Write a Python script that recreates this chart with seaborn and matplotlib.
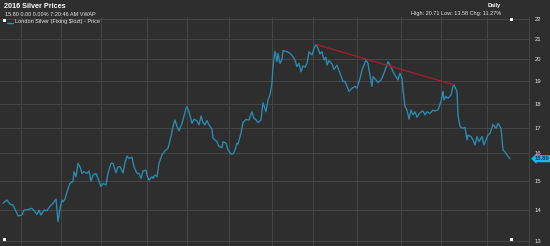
import matplotlib
matplotlib.use("Agg")
import matplotlib.pyplot as plt
import matplotlib.transforms as mtransforms
from matplotlib.patches import Rectangle
from matplotlib.ticker import FixedLocator, FixedFormatter, NullLocator
import seaborn as sns
import pandas as pd

# ---------------- data ----------------
# t: time index along the session axis; price: London silver fixing, $/ozt
t = [0, 4, 7, 10, 14, 15, 19, 21, 25, 29, 32, 34, 36, 38, 41, 44, 46, 50, 53, 55,
     57, 59, 60, 62, 64, 67, 70, 71, 73, 75, 77, 79, 81, 84, 86, 88, 90, 93, 95, 98,
     100, 103, 105, 108, 110, 113, 115, 117, 120, 122, 124, 126, 129, 131, 134, 136, 138, 140, 143, 144,
     146, 149, 150, 152, 154, 156, 159, 162, 165, 168, 170, 172, 174, 176, 179, 180, 183, 184, 186, 189,
     191, 194, 196, 198, 200, 202, 204, 206, 209, 210, 214, 216, 219, 220, 223, 225, 228, 230, 232, 234,
     235, 238, 240, 243, 246, 249, 251, 253, 255, 258, 260, 263, 265, 267, 269, 270, 272, 274, 275, 277,
     279, 280, 284, 287, 290, 292, 294, 296, 298, 300, 302, 304, 306, 309, 311, 313, 315, 317, 319, 321,
     323, 324, 326, 329, 331, 334, 337, 340, 342, 344, 346, 349, 352, 354, 357, 359, 361, 363, 365, 366,
     369, 370, 373, 375, 378, 380, 383, 385, 388, 390, 393, 395, 397, 399, 400, 402, 404, 406, 408, 410,
     412, 414, 417, 420, 422, 424, 427, 430, 432, 435, 438, 440, 441, 443, 445, 448, 450, 451, 454, 455,
     457, 460, 462, 464, 465, 468, 470, 472, 474, 476, 479, 481, 483, 485, 487, 490, 493, 495, 498, 500,
     502, 504, 507]
price = [14.22, 14.33, 14.19, 14.16, 13.88, 13.80, 13.83, 13.99, 14.01, 14.05, 13.93, 13.85, 13.99, 13.83, 13.99, 13.97, 14.08, 14.22, 14.36, 13.61,
         14.05, 14.33, 14.27, 14.36, 14.61, 14.90, 14.98, 15.32, 15.14, 15.63, 15.50, 15.26, 15.32, 15.26, 15.35, 14.98, 15.20, 15.26, 15.08, 14.79,
         14.90, 14.85, 15.26, 15.63, 15.63, 15.28, 15.50, 15.51, 15.27, 15.66, 15.90, 15.81, 15.85, 15.50, 15.26, 15.26, 15.08, 15.35, 15.38, 15.20,
         15.02, 15.14, 15.08, 15.20, 15.14, 15.63, 15.94, 16.10, 16.20, 16.65, 17.05, 17.32, 17.05, 16.88, 17.18, 17.32, 17.80, 17.87, 17.66, 17.18,
         17.35, 17.28, 17.12, 17.48, 17.21, 17.12, 17.29, 17.12, 16.94, 16.59, 16.45, 16.26, 16.22, 16.45, 16.39, 16.13, 15.98, 15.98, 16.13, 16.39,
         16.36, 16.78, 17.22, 17.34, 17.32, 17.66, 17.39, 17.32, 17.21, 17.32, 18.04, 17.66, 18.16, 18.38, 18.90, 19.65, 20.38, 19.88, 20.28, 19.80,
         19.99, 20.41, 20.36, 20.28, 20.12, 19.96, 19.65, 19.80, 19.41, 19.68, 19.62, 19.80, 20.36, 20.20, 20.52, 20.71, 20.52, 20.25, 20.36, 19.96,
         20.09, 19.72, 19.93, 19.77, 19.52, 19.72, 19.34, 18.97, 18.97, 18.75, 18.53, 18.67, 18.75, 18.67, 19.11, 19.49, 19.72, 19.96, 19.80, 19.49,
         18.75, 19.19, 19.04, 18.92, 19.04, 19.22, 19.62, 19.88, 19.65, 19.41, 19.19, 19.04, 19.34, 19.11, 18.60, 17.87, 17.73, 17.35, 17.73, 17.53,
         17.66, 17.43, 17.62, 17.69, 17.53, 17.66, 17.59, 17.73, 17.69, 17.73, 18.09, 18.53, 18.16, 18.31, 18.23, 18.38, 18.75, 18.82, 18.53, 17.53,
         17.05, 16.98, 17.02, 16.52, 16.71, 16.65, 16.52, 16.32, 16.65, 16.45, 16.65, 16.32, 16.52, 16.71, 16.78, 17.14, 16.98, 17.18, 16.98, 16.13,
         16.06, 15.94, 15.80]

# red down-trend line (peak to later high)
trend_t = [313, 451]
trend_price = [20.71, 18.82]

# vertical (monthly) grid positions on the time index
month_grid = [18, 58, 98, 144, 184, 226, 269, 310, 354, 398, 438, 484]
y_ticks = [13, 14, 15, 16, 17, 18, 19, 20, 21, 22]
y_tick_labels = ["13", "14", "15", "16", "17", "18", "19", "20", "21", "22"]

title = "2016 Silver Prices"
subtitle = "15.80 0.00 0.00% 7:20:46 AM VWAP"
series_name = "London Silver (Fixing $/ozt) - Price"
period = "Daily"
stats = "High: 20.71 Low: 13.58 Chg: 11.27%"

# ---------------- style ----------------
BG = "#2e2e2e"
GRID = "#464646"
LINE = "#2a8db3"
RED = "#a3202c"
TXT = "#e6e6e6"
TAG = "#1eb4e6"

sns.set_theme(style="dark")
plt.rcParams["font.family"] = ["Liberation Sans", "DejaVu Sans"]

W, H = 550, 246
fig = plt.figure(figsize=(W / 100, H / 100), dpi=100, facecolor=BG)
ax = fig.add_axes([0, 0, 529 / W, 229 / H])
ax.set_facecolor(BG)

df = pd.DataFrame({"t": t, "price": price})
sns.lineplot(data=df, x="t", y="price", ax=ax, color=LINE, linewidth=0.95)
tr = pd.DataFrame({"t": trend_t, "price": trend_price})
sns.lineplot(data=tr, x="t", y="price", ax=ax, color=RED, linewidth=0.95)

ax.set_yscale("log")
ax.set_ylim(12.85, 22.10)
ax.set_xlim(-3, 526)
ax.yaxis.set_major_locator(FixedLocator(y_ticks))
ax.yaxis.set_major_formatter(FixedFormatter(y_tick_labels))
ax.yaxis.set_minor_locator(NullLocator())
ax.xaxis.set_major_locator(FixedLocator(month_grid))
ax.set_xticklabels([""] * len(month_grid))
ax.yaxis.tick_right()
ax.tick_params(axis="both", length=0, colors=TXT, labelsize=4.2)
ax.tick_params(axis="y", pad=4)
ax.set_xlabel("")
ax.set_ylabel("")
ax.grid(True, color=GRID, linewidth=0.7)
for side in ["top", "left", "bottom"]:
    ax.spines[side].set_visible(False)
ax.spines["right"].set_color(GRID)
ax.spines["right"].set_linewidth(0.7)

# last-price tag
blend = mtransforms.blended_transform_factory(ax.transAxes, ax.transData)
ax.text(1.0 + 6 / 529, price[-1], f"{price[-1]:.2f}", transform=blend,
        ha="left", va="center", fontsize=4.2, color="#0d3350", fontweight="bold",
        bbox=dict(boxstyle="larrow,pad=0.18", fc=TAG, ec="none"), clip_on=False)

# header texts
fig.text(4 / W, 1 - 6 / H, title, ha="left", va="center", fontsize=5.2,
         fontweight="bold", color="white")
fig.text(5 / W, 1 - 14 / H, subtitle, ha="left", va="center", fontsize=4.0, color=TXT)
fig.text(15 / W, 1 - 22 / H, series_name, ha="left", va="center", fontsize=4.0, color=TXT)
fig.lines.append(plt.Line2D([7 / W, 13 / W], [1 - 22.5 / H, 1 - 22.5 / H],
                            transform=fig.transFigure, color=LINE, linewidth=1.0))
fig.text(494 / W, 1 - 6 / H, period, ha="center", va="center", fontsize=4.0,
         fontweight="bold", color="white")
fig.text(501 / W, 1 - 14 / H, stats, ha="right", va="center", fontsize=4.0, color=TXT)

# small white handle squares
for (px, py) in [(3, 19), (510, 18), (510, 238), (3, 238)]:
    fig.patches.append(Rectangle((px / W, 1 - (py + 3) / H), 3 / W, 3 / H,
                                 transform=fig.transFigure, fc="white", ec="none"))

fig.savefig("out.png", dpi=100, facecolor=BG)
